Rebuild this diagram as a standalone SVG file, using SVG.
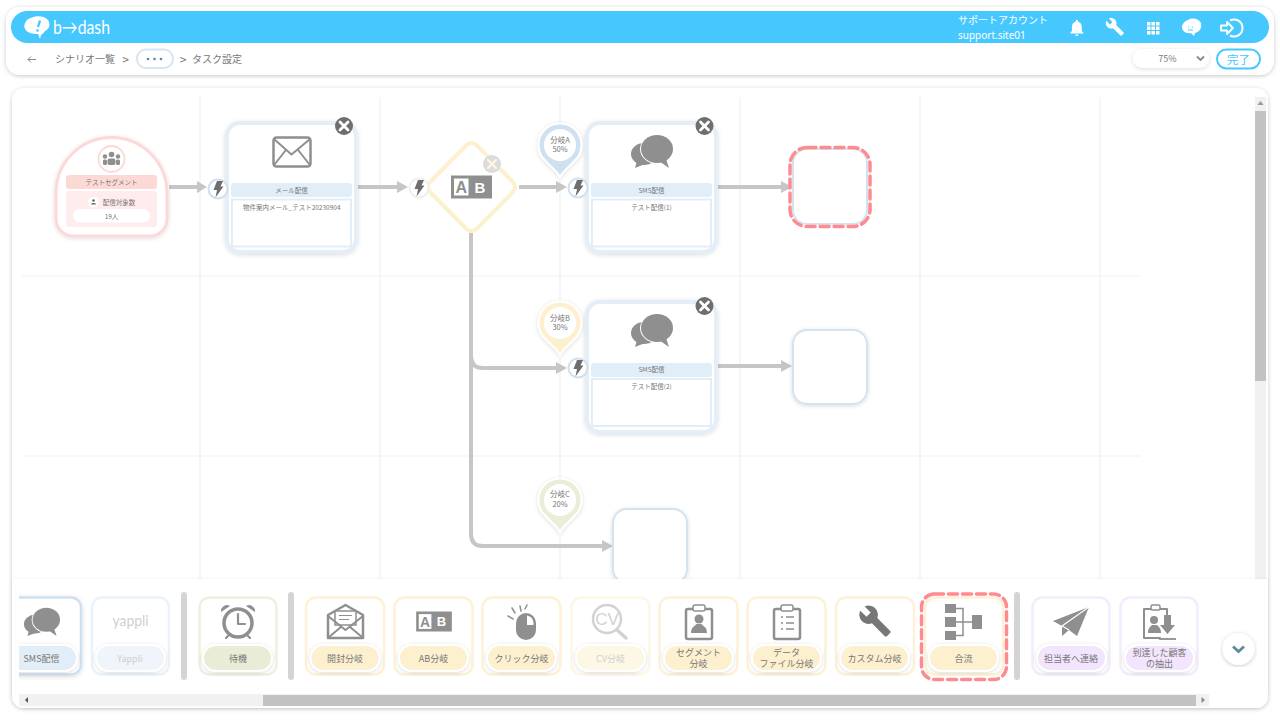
<svg xmlns="http://www.w3.org/2000/svg" width="1280" height="720" viewBox="0 0 1280 720">
<style>
text{font-family:"Noto Sans CJK JP","Noto Sans",sans-serif;fill:#777;text-anchor:middle}
.grid{stroke:#f1f1f1;stroke-width:1.2;fill:none}
.conn{stroke:#c6c6c6;stroke-width:4;fill:none}
.node{fill:#fff;stroke:#e3eef8;stroke-width:4}
.band{fill:#e1edf7}
.box{fill:#fff;stroke:#e1edf7;stroke-width:2}
.t6{font-size:6.500px}.t7{font-size:7.500px}.t9{font-size:9px}.t10{font-size:10px}
.ic{fill:#8f8f8f}.ln{fill:none;stroke:#8f8f8f;stroke-width:3;stroke-linejoin:round;stroke-linecap:round}
.empty{fill:#fff;stroke:#d3e3f2;stroke-width:2}
.dash{fill:none;stroke:#ff8a90;stroke-width:3.500;stroke-dasharray:9 5;stroke-linecap:round}
.card{fill:#fff;stroke-width:2.500}
.pill{stroke:#fff;stroke-width:2;filter:url(#sh)}
.y{stroke:#fdf2d5}.py{fill:#fdf0cf}
.sep{fill:#d4d4d4}
.track{fill:#f1f1f1}.thumb{fill:#c2c2c2}
.w{fill:#fff}
</style>
<defs>
<filter id="sh" x="-20%" y="-20%" width="140%" height="140%"><feDropShadow dx="0" dy="1" stdDeviation="2" flood-color="#000" flood-opacity=".14"/></filter>
<filter id="sh2" x="-5%" y="-5%" width="110%" height="110%"><feDropShadow dx="0" dy="1" stdDeviation="2" flood-color="#000" flood-opacity=".22"/></filter>
<filter id="sh3" x="-5%" y="-5%" width="110%" height="110%"><feDropShadow dx="0" dy="0" stdDeviation="1.500" flood-color="#000" flood-opacity=".07"/></filter>
<clipPath id="palclip"><rect x="19" y="585" width="1190" height="100"/></clipPath>
<clipPath id="canvasclip"><rect x="12" y="88" width="1256" height="491"/></clipPath>
<g id="close"><circle r="9" fill="#6e6e6e"/><path d="M-4 -4L4 4M4 -4L-4 4" stroke="#fff" stroke-width="2.800" stroke-linecap="round"/></g>
<path id="bolt" d="M-1 -8H5L2.500 -2.500H5.500L-2.500 8.500L-1 1H-4.500Z" fill="#6e6e6e"/>
<path id="pin" d="M0 32C-2 27 -9 22 -14 16.300A21.500 21.500 0 1 1 14 16.300C9 22 2 27 0 32Z" stroke="#fff" stroke-width="2" filter="url(#sh)"/>
<g id="i-sms" class="ic"><ellipse cx="-8" cy="3" rx="13" ry="11"/><path d="M-15 10L-17 17L-7 13Z"/><ellipse cx="5" cy="-2" rx="17" ry="15" fill="#fff"/><ellipse cx="5" cy="-2" rx="16" ry="14"/><path d="M7 10L17 17L14 8Z"/></g>
<g id="i-ab"><rect x="-20.500" y="-11.500" width="41" height="23" fill="#8f8f8f"/><rect x="-17.500" y="-8.500" width="14.500" height="17" fill="#fff"/><text x="-10.200" y="6" font-size="16" font-weight="700" style="font-family:'Liberation Sans',sans-serif;fill:#8f8f8f">A</text><text x="8.500" y="5.500" font-size="15" font-weight="700" style="font-family:'Liberation Sans',sans-serif;fill:#fff">B</text></g>
<path id="wrench" d="M22.700 19l-9.100-9.100c.9-2.300.4-5-1.500-6.900-2-2-5-2.400-7.400-1.300L9 6 6 9 1.600 4.700C.4 7.100.9 10.100 2.900 12.100c1.900 1.900 4.600 2.400 6.900 1.500l9.100 9.100c.4.4 1 .4 1.400 0l2.300-2.300c.5-.4.500-1.100.1-1.400z"/>
</defs>
<rect width="1280" height="720" fill="#fff"/>

<g id="header">
<rect x="6" y="7" width="1268" height="68" rx="14" fill="#fff" filter="url(#sh2)"/>
<rect x="11" y="11" width="1258" height="32" rx="16" fill="#46c8ff"/>
<g id="logo"><path d="M31 18C36 15 44 16 47 19C51 23 50 29 45 31C44 33 42 34 41 35L40 39L38 34C33 34 27 33 25 29C23 25 26 19 31 18Z" fill="#fff"/><path d="M40 20.500L38 27" stroke="#46c8ff" stroke-width="2.400"/><circle cx="37.500" cy="30.500" r="1.300" fill="#46c8ff"/>
<text x="53" y="34" font-size="19" textLength="57" lengthAdjust="spacingAndGlyphs" style="fill:#fff;font-family:Lato,sans-serif;text-anchor:start">b→dash</text></g>
<text x="958" y="24" font-size="10" style="fill:#fff;text-anchor:start">サポートアカウント</text>
<text x="958" y="39" font-size="10" style="fill:#fff;text-anchor:start;font-family:'Noto Sans',sans-serif">support.site01</text>
<path transform="translate(1067 18) scale(.82)" fill="#fff" d="M12 22c1.100 0 2-.9 2-2h-4c0 1.100.89 2 2 2zm6-6v-5c0-3.070-1.640-5.640-4.500-6.320V4c0-.83-.67-1.500-1.500-1.500s-1.500.67-1.500 1.500v.68C7.630 5.360 6 7.920 6 11v5l-2 2v1h16v-1l-2-2z"/>
<use href="#wrench" transform="translate(1105 17) scale(.82)" fill="#fff"/>
<g class="w"><rect x="1147" y="22" width="3.500" height="3.500"/><rect x="1151.500" y="22" width="3.500" height="3.500"/><rect x="1156" y="22" width="3.500" height="3.500"/><rect x="1147" y="26.500" width="3.500" height="3.500"/><rect x="1151.500" y="26.500" width="3.500" height="3.500"/><rect x="1156" y="26.500" width="3.500" height="3.500"/><rect x="1147" y="31" width="3.500" height="3.500"/><rect x="1151.500" y="31" width="3.500" height="3.500"/><rect x="1156" y="31" width="3.500" height="3.500"/></g>
<path d="M1188 20C1193 17 1199 19 1201 23C1202 29 1199 32 1195 33L1194 36L1191 33C1186 34 1182 31 1182 27C1182 24 1185 21 1188 20Z" fill="#fff"/><path d="M1188 27H1189M1192 27H1193M1188 30H1193" stroke="#46c8ff" stroke-width="1.100"/>
<path d="M1221 25.500H1227V22L1233 28L1227 34V30.500H1221Z" fill="none" stroke="#fff" stroke-width="1.800" stroke-linejoin="round"/><path d="M1230 20.500A8.500 8.500 0 1 1 1230 35.500" fill="none" stroke="#fff" stroke-width="2"/>
<path d="M28 59.500H36M31 56.500L28 59.500L31 62.500" fill="none" stroke="#888" stroke-width="1"/>
<text x="55" y="63" class="t10" style="text-anchor:start">シナリオ一覧</text><text x="125.500" y="63.500" font-size="12">&gt;</text>
<rect x="137" y="49.500" width="36" height="18.500" rx="9" fill="#fff" stroke="#d5e6f3" stroke-width="2"/>
<circle cx="148" cy="59" r="1.300" fill="#5d8b9c"/><circle cx="154.500" cy="59" r="1.300" fill="#5d8b9c"/><circle cx="161" cy="59" r="1.300" fill="#5d8b9c"/>
<text x="183" y="63.500" font-size="12">&gt;</text><text x="192" y="63" class="t10" style="text-anchor:start">タスク設定</text>
<rect x="1133" y="49" width="76" height="19" rx="9.500" fill="#fff" filter="url(#sh)"/>
<text x="1167.500" y="62" class="t9">75%</text>
<path d="M1197 56.500L1200.500 60L1204 56.500" fill="none" stroke="#888" stroke-width="1.800"/>
<rect x="1217" y="49.500" width="43" height="19" rx="9.500" fill="#fff" stroke="#46c8ff" stroke-width="2"/>
<text x="1238.500" y="63.500" font-size="11.500" style="fill:#46c8ff">完了</text>
</g>

<g id="canvas">
<rect x="12" y="88" width="1256" height="620" rx="12" fill="#fff" filter="url(#sh2)"/>
<g class="grid"><path d="M200 97V579M380 97V579M560 97V579M740 97V579M920 97V579M1100 97V579M22 276H1140M22 456H1140"/></g>
<rect x="1255" y="97" width="11" height="482" class="track"/><rect x="1255" y="111" width="11" height="270" class="thumb"/><path d="M1260.500 101L1257.500 105H1263.500Z" fill="#999"/>
</g>

<g id="connectors" clip-path="url(#canvasclip)">
<path class="conn" d="M169 187H198"/><path d="M197 181L207 187L197 193Z" fill="#c6c6c6"/>
<path class="conn" d="M358 187H398"/><path d="M397 181L408 187L397 193Z" fill="#c6c6c6"/>
<path class="conn" d="M519 187H557"/><path d="M556 181L567 187L556 193Z" fill="#c6c6c6"/>
<path class="conn" d="M718 187H782"/><path d="M781 181L792 187L781 193Z" fill="#c6c6c6"/>
<path class="conn" d="M471 233V356Q471 368 483 368H557"/><path d="M556 362L567 368L556 374Z" fill="#c6c6c6"/>
<path class="conn" d="M718 366H782"/><path d="M781 360L792 366L781 372Z" fill="#c6c6c6"/>
<path class="conn" d="M471 356V534Q471 546 483 546H603"/><path d="M602 540L613 546L602 552Z" fill="#c6c6c6"/>
</g>

<g id="node-segment">
<path d="M56 219V193A55.500 55.500 0 0 1 167 193V219A17 17 0 0 1 150 236H73A17 17 0 0 1 56 219Z" fill="#fff" stroke="#fdd8d6" stroke-width="3" filter="url(#sh)"/>
<circle cx="111.500" cy="159" r="13" fill="#fff" stroke="#fdd8d6" stroke-width="1.800"/>
<g class="ic"><circle cx="111.500" cy="154.500" r="2.800"/><circle cx="105" cy="156.500" r="2.200"/><circle cx="118" cy="156.500" r="2.200"/><rect x="107.500" y="158.500" width="8" height="6.500" rx="2"/><rect x="103" y="159.500" width="4" height="5.500" rx="1.500"/><rect x="116" y="159.500" width="4" height="5.500" rx="1.500"/></g>
<rect x="66" y="175" width="91" height="14" rx="3" fill="#fdd9d6"/><text x="111.500" y="185" class="t6">テストセグメント</text>
<rect x="66" y="191" width="91" height="36" rx="3" fill="#ffecec"/>
<circle cx="93.500" cy="202" r="5.500" fill="#fff"/><circle cx="93.500" cy="200.500" r="1.300" fill="#666"/><path d="M91 204.500C91 202.500 96 202.500 96 204.500Z" fill="#666"/>
<text x="119" y="205" class="t6">配信対象数</text>
<rect x="73" y="209" width="77" height="13.500" rx="6.700" fill="#fff"/><text x="111.500" y="219" class="t6">19人</text>
</g>

<g id="node-mail">
<rect x="227" y="123" width="129" height="129" rx="13" class="node" filter="url(#sh)"/>
<g transform="translate(291.500 151.500)"><rect x="-18" y="-14" width="37" height="29" rx="3" class="ln" style="stroke-width:2.500"/><path class="ln" style="stroke-width:2" d="M-17 -12L0 3L18 -12M-17 13L-6 -1M18 13L7 -1"/></g>
<rect x="231" y="183" width="121" height="14" rx="3" class="band"/><text x="291.500" y="193" class="t6">メール配信</text>
<rect x="232" y="199.500" width="119" height="47" class="box"/><text x="243" y="210" class="t6" style="text-anchor:start">物件案内メール_テスト20230904</text>
<use href="#close" x="344" y="126"/>
<circle cx="218" cy="189" r="9.500" fill="#fff" stroke="#cfe0f0" stroke-width="2"/><use href="#bolt" x="218" y="189"/>
</g>

<g id="node-ab">
<path d="M466 145.500Q471.500 140.500 477 145.500L512.500 181.500Q517.500 187 512.500 192.500L477 228.500Q471.500 233.500 466 228.500L430.500 192.500Q425.500 187 430.500 181.500Z" fill="#fff" stroke="#fdf0cf" stroke-width="4"/>
<use href="#i-ab" x="471.500" y="187"/>
<circle cx="492" cy="164" r="9" fill="#dcdcdc"/><path d="M488 160L496 168M496 160L488 168" stroke="#fdf6e0" stroke-width="2.200" stroke-linecap="round"/>
<circle cx="419" cy="188" r="9.500" fill="#fff" stroke="#efefef" stroke-width="2"/><use href="#bolt" x="419" y="188"/>
</g>

<g id="node-sms-1">
<rect x="587" y="123" width="129" height="129" rx="13" class="node" filter="url(#sh)"/>
<use href="#i-sms" x="652" y="151"/>
<rect x="591" y="183" width="121" height="14" rx="3" class="band"/><text x="651.500" y="193" class="t6">SMS配信</text>
<rect x="592" y="199.500" width="119" height="47" class="box"/><text x="651.500" y="210" class="t6">テスト配信(1)</text>
<use href="#close" x="704.500" y="126"/>
<circle cx="578" cy="188" r="9.500" fill="#fff" stroke="#cfe0f0" stroke-width="2"/><use href="#bolt" x="578" y="188"/>
</g>

<g id="node-sms-2">
<rect x="587" y="302" width="129" height="130" rx="13" class="node" filter="url(#sh)"/>
<use href="#i-sms" x="652" y="330"/>
<rect x="591" y="363" width="121" height="14" rx="3" class="band"/><text x="651.500" y="372" class="t6">SMS配信</text>
<rect x="592" y="379" width="119" height="47" class="box"/><text x="651.500" y="389" class="t6">テスト配信(2)</text>
<use href="#close" x="704.500" y="306"/>
<circle cx="578" cy="368" r="9.500" fill="#fff" stroke="#cfe0f0" stroke-width="2"/><use href="#bolt" x="578" y="368"/>
</g>

<g id="pin-a"><use href="#pin" x="560" y="145" fill="#cfe0f0"/><circle cx="560" cy="145" r="16" fill="#fff"/><text x="560" y="143" class="t7">分岐A</text><text x="560" y="152" class="t7">50%</text></g>
<g id="pin-b"><use href="#pin" x="560" y="323" fill="#fdf0cf"/><circle cx="560" cy="323" r="16" fill="#fff"/><text x="560" y="320.500" class="t7">分岐B</text><text x="560" y="329.500" class="t7">30%</text></g>
<g id="pin-c"><use href="#pin" x="560" y="500" fill="#e9eed9"/><circle cx="560" cy="500" r="16" fill="#fff"/><text x="560" y="497" class="t7">分岐C</text><text x="560" y="507" class="t7">20%</text></g>

<g id="node-empty-1"><rect x="793" y="149" width="74" height="75" rx="14" class="empty"/><rect x="790" y="147.500" width="80" height="79" rx="17" class="dash"/></g>
<g id="node-empty-2"><rect x="793" y="330" width="74" height="74" rx="14" class="empty" filter="url(#sh)"/></g>
<g id="node-empty-3"><rect x="613" y="509" width="74" height="74" rx="14" class="empty" filter="url(#sh)"/></g>

<g id="palette">
<path d="M12 579H1268V696A12 12 0 0 1 1256 708H24A12 12 0 0 1 12 696Z" fill="#fff" filter="url(#sh3)"/>
<rect x="181" y="592" width="6" height="88" rx="3" class="sep"/><rect x="288" y="592" width="6" height="88" rx="3" class="sep"/><rect x="1014" y="592" width="6" height="88" rx="3" class="sep"/>

<g clip-path="url(#palclip)">
<g id="card-sms"><rect x="4" y="597.500" width="77" height="77" rx="10" class="card" stroke="#cfe0f0" filter="url(#sh)"/><use href="#i-sms" transform="translate(42 621.500) scale(.86)"/><rect x="8" y="645" width="69" height="26" rx="13" class="pill" fill="#e1eef8"/><text x="41.500" y="662" class="t9">SMS配信</text></g>
</g>
<g id="card-yappli"><rect x="92" y="597.500" width="77" height="77" rx="10" class="card" stroke="#eaf2fa"/><text x="130.500" y="626" font-size="15" textLength="36" lengthAdjust="spacingAndGlyphs" style="fill:#cfcfcf;font-family:Lato,sans-serif">yappli</text><rect x="96" y="645" width="69" height="26" rx="13" class="pill" fill="#eff5fb"/><text x="130" y="662" class="t9" style="fill:#cfcfcf">Yappli</text></g>
<g id="card-wait"><rect x="199.500" y="597.500" width="77" height="77" rx="10" class="card" stroke="#edf1df"/>
<circle cx="238" cy="623" r="14" fill="#fff" stroke="#8f8f8f" stroke-width="3.500"/><path class="ic" d="M221 612A6 6 0 0 1 230 606ZM255 612A6 6 0 0 0 246 606Z"/><path class="ln" d="M238 614V624H245M228 636L226 638M248 636L250 638" style="stroke-width:2.200"/>
<rect x="203" y="645" width="69" height="26" rx="13" class="pill" fill="#e9edd8"/><text x="238" y="662" class="t9">待機</text></g>

<g id="card-open"><rect x="306" y="597.500" width="78" height="77" rx="10" class="card y"/>
<path class="ln" style="stroke-width:2.500" d="M328 615L345.500 605L363 615V638H328Z"/><rect x="335" y="611" width="21" height="14" fill="#fff" stroke="#8f8f8f" stroke-width="1.500"/><path d="M339 615.500H352M339 619.500H349" stroke="#8f8f8f" stroke-width="1.200"/><path class="ln" style="stroke-width:2" d="M328 616L345.500 630L363 616M329 637L341 627M362 637L350 627"/>
<rect x="310.500" y="645" width="69" height="26" rx="13" class="pill py"/><text x="345" y="662" class="t9">開封分岐</text></g>
<g id="card-ab"><rect x="394.500" y="597.500" width="78" height="77" rx="10" class="card y"/><use href="#i-ab" transform="translate(434 621.500) scale(.87)"/>
<rect x="399" y="645" width="69" height="26" rx="13" class="pill py"/><text x="433.500" y="662" class="t9">AB分岐</text></g>
<g id="card-click"><rect x="482.500" y="597.500" width="78" height="77" rx="10" class="card y"/>
<rect x="516" y="613" width="20" height="27" rx="10" fill="#8f8f8f"/><path d="M527 615.500A8 8 0 0 1 533.500 623V625H527Z" fill="#fff"/>
<path class="ln" style="stroke-width:1.500" d="M508 616L513 619M512 608L515 613M520 606L521 611M527 605L525 609"/>
<rect x="487" y="645" width="69" height="26" rx="13" class="pill py"/><text x="521.500" y="662" class="t9">クリック分岐</text></g>
<g id="card-cv"><rect x="571.500" y="597.500" width="78" height="77" rx="10" class="card" stroke="#fdf7e6"/>
<circle cx="607" cy="619" r="14" fill="#fff" stroke="#d2d2d2" stroke-width="2.500"/><path d="M617 630L626 638" stroke="#d2d2d2" stroke-width="3.500" stroke-linecap="round"/><text x="607" y="625" font-size="17" style="fill:#d2d2d2;font-family:'Liberation Sans',sans-serif">CV</text>
<rect x="576" y="645" width="69" height="26" rx="13" class="pill" fill="#fdf7e6"/><text x="610.500" y="662" class="t9" style="fill:#cfcfcf">CV分岐</text></g>
<g id="card-segment"><rect x="659.500" y="597.500" width="78" height="77" rx="10" class="card y"/>
<rect x="686" y="609" width="26" height="30" rx="2" class="ln" style="stroke-width:2.500"/><rect x="693" y="605" width="12" height="6" rx="2" class="ln" style="stroke-width:1.500;fill:#fff"/>
<circle cx="699" cy="619" r="4.500" class="ic"/><path class="ic" d="M691 633C691 627 695 626 696.500 624H701.500C703 626 707 627 707 633Z"/>
<rect x="664" y="645" width="69" height="26" rx="13" class="pill py"/><text x="698.500" y="656" class="t9">セグメント</text><text x="698.500" y="667" class="t9">分岐</text></g>
<g id="card-data"><rect x="747.500" y="597.500" width="78" height="77" rx="10" class="card y"/>
<rect x="774" y="609" width="26" height="30" rx="2" class="ln" style="stroke-width:2.500"/><rect x="781" y="605" width="12" height="6" rx="2" class="ln" style="stroke-width:1.500;fill:#fff"/>
<path d="M781 617H783M786 617H794M781 623H783M786 623H794M781 629H783M786 629H794" stroke="#8f8f8f" stroke-width="1.500"/>
<rect x="752" y="645" width="69" height="26" rx="13" class="pill py"/><text x="786.500" y="656" class="t9">データ</text><text x="786.500" y="667" class="t9">ファイル分岐</text></g>
<g id="card-custom"><rect x="836" y="597.500" width="78" height="77" rx="10" class="card y"/><use href="#wrench" transform="translate(858 604) scale(1.420)" fill="#777"/>
<rect x="840" y="645" width="69" height="26" rx="13" class="pill py"/><text x="874.500" y="662" class="t9">カスタム分岐</text></g>
<g id="card-merge"><rect x="925" y="597.500" width="78" height="77" rx="10" class="card y"/>
<g class="ic"><rect x="945" y="604" width="11" height="9"/><rect x="945" y="617" width="11" height="10"/><rect x="945" y="631" width="11" height="9"/><rect x="972" y="615" width="10" height="14"/></g><path d="M956 608.500H963V635.500H956M956 622H972" fill="none" stroke="#8f8f8f" stroke-width="1.500"/>
<rect x="929" y="645" width="69" height="26" rx="13" class="pill py"/><text x="963.500" y="662" class="t9">合流</text>
<rect x="921.500" y="594" width="85" height="85.500" rx="13" class="dash"/></g>
<g id="card-contact"><rect x="1032.500" y="597.500" width="77" height="77" rx="10" class="card" stroke="#f4ebfc"/>
<path class="ic" d="M1089 607L1053 621L1062 626V636L1069 630L1077 636Z"/><path d="M1089 607L1062 626L1069 630" fill="none" stroke="#fff" stroke-width="1.200"/>
<rect x="1037" y="645" width="69" height="26" rx="13" class="pill" fill="#f3e5fd"/><text x="1071" y="662" class="t9">担当者へ連絡</text></g>
<g id="card-extract"><rect x="1120.500" y="597.500" width="77" height="77" rx="10" class="card" stroke="#f4ebfc"/>
<path class="ln" style="stroke-width:2" d="M1167 621V609H1144V638H1160"/><rect x="1151" y="605" width="9" height="5" rx="1.500" class="ln" style="stroke-width:1.500;fill:#fff"/>
<circle cx="1154" cy="620" r="4" class="ic"/><path class="ic" d="M1148 633C1148 628 1150 627 1152 625H1157C1159 627 1161 628 1161 633Z"/><path class="ic" d="M1164 615H1171V625H1175L1167.500 634L1160 625H1164Z"/><path d="M1159 639H1176" stroke="#8f8f8f" stroke-width="1.800"/>
<rect x="1125" y="645" width="69" height="26" rx="13" class="pill" fill="#f3e5fd"/><text x="1159.500" y="656" class="t9">到達した顧客</text><text x="1159.500" y="667" class="t9">の抽出</text></g>

<g id="toggle"><circle cx="1238.500" cy="649" r="16" fill="#fff" filter="url(#sh2)"/><path d="M1233 646.500L1238.500 651.500L1244 646.500" fill="none" stroke="#5d8b9c" stroke-width="2.800"/></g>

<g id="hscroll"><rect x="19" y="694" width="1190" height="12" class="track"/><rect x="263" y="695" width="933" height="11" class="thumb"/><path d="M25 700L28 697V703Z" fill="#555"/><path d="M1205 700L1201.500 697V703Z" fill="#888"/></g>
</g>
</svg>
